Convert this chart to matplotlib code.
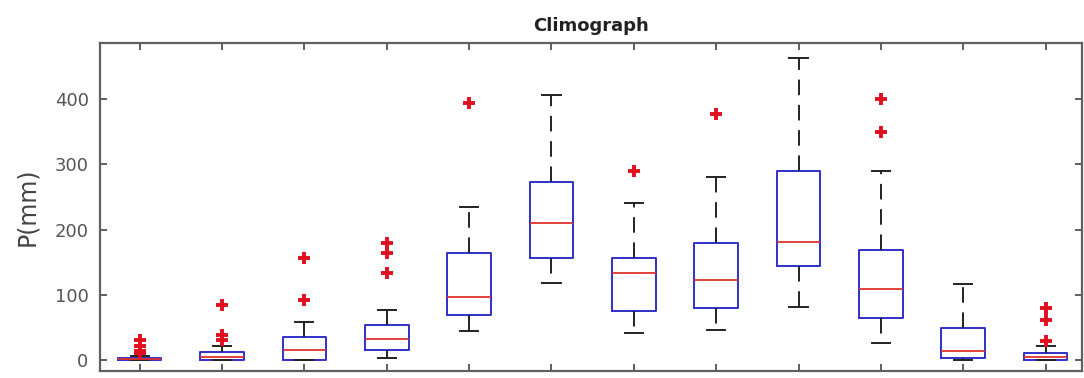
import matplotlib
matplotlib.use("Agg")
import matplotlib.pyplot as plt

# DATA -------------------------------------------------------------------------
months = list(range(1, 13))
q1 = [0, 0, 0, 15, 69, 157, 75, 80, 144, 64, 3, 0]
med = [1, 5, 15, 32, 97, 210, 133, 123, 181, 109, 13, 5]
q3 = [3, 12, 35, 54, 164, 273, 156, 180, 290, 169, 49, 11]
whislo = [0, 0, 0, 3, 44, 118, 41, 46, 81, 26, 0, 0]
whishi = [6, 22, 58, 77, 234, 406, 241, 280, 463, 290, 117, 22]
fliers = [
    [30, 22, 14, 10],
    [84, 38, 30],
    [157, 92],
    [179, 164, 133],
    [394],
    [],
    [290],
    [377],
    [],
    [400, 349],
    [],
    [79, 61, 29],
]

stats = []
for i in range(len(months)):
    stats.append(dict(q1=q1[i], med=med[i], q3=q3[i],
                      whislo=whislo[i], whishi=whishi[i], fliers=fliers[i]))

# PLOT -------------------------------------------------------------------------
fig = plt.figure(figsize=(10.84, 3.78), dpi=100)
ax = fig.add_axes([0.092, 0.0185, 0.906, 0.8675])

ax.bxp(stats, positions=months, widths=0.53, capwidths=0.22,
       boxprops=dict(color="#3030c8", linewidth=1.4),
       medianprops=dict(color="#e03030", linewidth=1.3),
       whiskerprops=dict(color="#222222", linewidth=1.4, linestyle=(0, (8, 5))),
       capprops=dict(color="#222222", linewidth=1.4),
       flierprops=dict(marker="+", markeredgecolor="#e01020", markersize=9,
                       markeredgewidth=2.8, linestyle="none"))

ax.set_xlim(0.515, 12.44)
ax.set_ylim(-17, 486)
ax.set_yticks([0, 100, 200, 300, 400])
ax.set_xticks(months)
ax.set_xticklabels([])
ax.tick_params(axis="both", direction="in", length=5, width=1.2,
               colors="#444444", labelsize=13, labelcolor="#555555",
               top=True, right=True, pad=8)

for s in ax.spines.values():
    s.set_color("#606060")
    s.set_linewidth(1.6)

ax.set_ylabel("P(mm)", fontsize=17, color="#444444")
ax.yaxis.set_label_coords(-0.062, 0.5)
ax.set_title("Climograph", fontsize=13, fontweight="bold", color="#222222", pad=9)

fig.savefig("out.png", dpi=100)
